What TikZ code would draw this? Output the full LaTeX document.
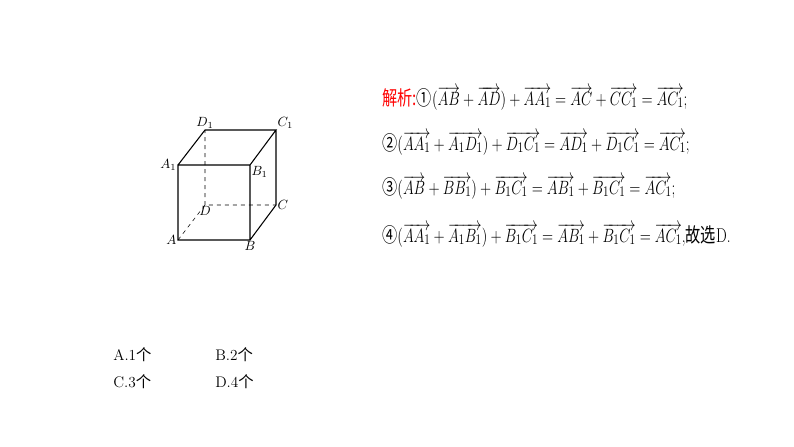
\documentclass[tikz,border=0pt]{standalone}
\usepackage{fontspec}
\usepackage{graphicx}
\newfontfamily\cjk{Noto Sans CJK SC}
\tikzset{lbl/.style={font=\itshape\normalsize,inner sep=1pt},
 eq/.style={anchor=west,font=\fontsize{15}{18}\selectfont,inner sep=0pt},
 opt/.style={anchor=west,font=\fontsize{11.5}{13}\selectfont,inner sep=0pt}}
\newcommand{\vv}[1]{\overrightarrow{#1}}
\newcommand{\sq}[1]{\scalebox{0.76}[1]{#1}}
\begin{document}
\begin{tikzpicture}[x=0.75pt,y=-0.75pt]
\useasboundingbox (0,0) rectangle (794,447);
\coordinate (A) at (178,240); \coordinate (B) at (250,240);
\coordinate (B1) at (250,165); \coordinate (A1) at (178,165);
\coordinate (D) at (205,205); \coordinate (C) at (276,205);
\coordinate (C1) at (276,130); \coordinate (D1) at (205,130);
\draw[thick] (A)--(B)--(B1)--(A1)--cycle (A1)--(D1)--(C1)--(B1) (B)--(C)--(C1);
\draw[dashed] (A)--(D)--(C) (D)--(D1);
\node[lbl,left] at (A) {$A$};
\node[lbl,below] at (B) {$B$};
\node[lbl,right] at (C) {$C$};
\node[lbl,below] at (D) {$D$};
\node[lbl,left] at (A1) {$A_1$};
\node[lbl,below right] at (B1) {$B_1$};
\node[lbl,above right] at (C1) {$C_1$};
\node[lbl,above] at (D1) {$D_1$};
\node[eq] (l1) at (382,98) {\sq{\textcolor{red}{\cjk 解析:}{\cjk ①}$(\vv{AB}+\vv{AD})+\vv{AA_1}=\vv{AC}+\vv{CC_1}=\vv{AC_1}$;}};
\node[eq] (l2) at (382,143) {\sq{{\cjk ②}$(\vv{AA_1}+\vv{A_1D_1})+\vv{D_1C_1}=\vv{AD_1}+\vv{D_1C_1}=\vv{AC_1}$;}};
\node[eq] (l3) at (382,187) {\sq{{\cjk ③}$(\vv{AB}+\vv{BB_1})+\vv{B_1C_1}=\vv{AB_1}+\vv{B_1C_1}=\vv{AC_1}$;}};
\node[eq] (l4) at (382,235) {\sq{{\cjk ④}$(\vv{AA_1}+\vv{A_1B_1})+\vv{B_1C_1}=\vv{AB_1}+\vv{B_1C_1}=\vv{AC_1}$,{\cjk 故选}D.}};
\node[opt] (oa) at (113,355) {A.1{\cjk 个}};
\node[opt] (ob) at (215,355) {B.2{\cjk 个}};
\node[opt] (oc) at (113,382) {C.3{\cjk 个}};
\node[opt] (od) at (215,382) {D.4{\cjk 个}};
\end{tikzpicture}
\end{document}
